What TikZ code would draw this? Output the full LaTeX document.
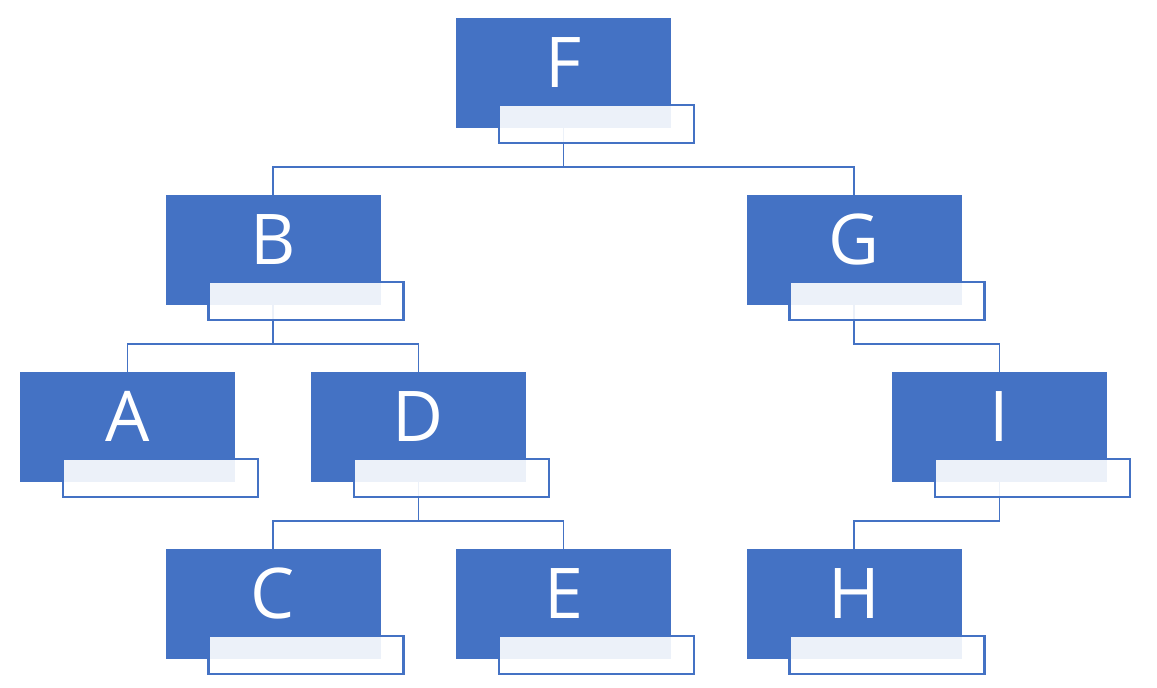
\documentclass[tikz,border=0pt]{standalone}
\usepackage{fontspec}
\setmainfont{Open Sans}
\usetikzlibrary{backgrounds,positioning}
\definecolor{accblue}{HTML}{4472C4}
\tikzset{
  x=1pt, y=1pt,
  bbox/.style={fill=accblue, draw=none, minimum width=215pt, minimum height=110pt, inner sep=0pt},
  lbox/.style={fill=white, fill opacity=0.9, draw=accblue, line width=2.2pt, minimum width=195pt, minimum height=38pt, inner sep=0pt, anchor=north west},
  letter/.style={text=white, font=\fontsize{70}{70}\selectfont, text height=50pt, text depth=0pt, inner sep=0pt},
  conn/.style={draw=accblue, line width=1.8pt},
}
\newcommand{\treebox}[3]{%
  \node[bbox] (#1) at (#2,#3) {};
  \node[letter] (#1t) at ([yshift=-45pt]#1.north) {#1};
  \node[lbox] (#1l) at ([xshift=42pt,yshift=-86pt]#1.north west) {};
}
\begin{document}
\begin{tikzpicture}
\useasboundingbox (0,0) rectangle (1157,-688);
\treebox{F}{563.5}{-73}
\treebox{B}{273}{-250}
\treebox{G}{854}{-250}
\treebox{A}{127.5}{-427}
\treebox{D}{418.5}{-427}
\treebox{I}{999.5}{-427}
\treebox{C}{273}{-604}
\treebox{E}{563.5}{-604}
\treebox{H}{854}{-604}
\begin{scope}[on background layer]
  \draw[conn] (F.south) |- ([yshift=28pt]B.north) -- (B.north);
  \draw[conn] (F.south) |- ([yshift=28pt]G.north) -- (G.north);
  \draw[conn] (B.south) |- ([yshift=28pt]A.north) -- (A.north);
  \draw[conn] (B.south) |- ([yshift=28pt]D.north) -- (D.north);
  \draw[conn] (G.south) |- ([yshift=28pt]I.north) -- (I.north);
  \draw[conn] (D.south) |- ([yshift=28pt]C.north) -- (C.north);
  \draw[conn] (D.south) |- ([yshift=28pt]E.north) -- (E.north);
  \draw[conn] (I.south) |- ([yshift=28pt]H.north) -- (H.north);
\end{scope}
\end{tikzpicture}
\end{document}
